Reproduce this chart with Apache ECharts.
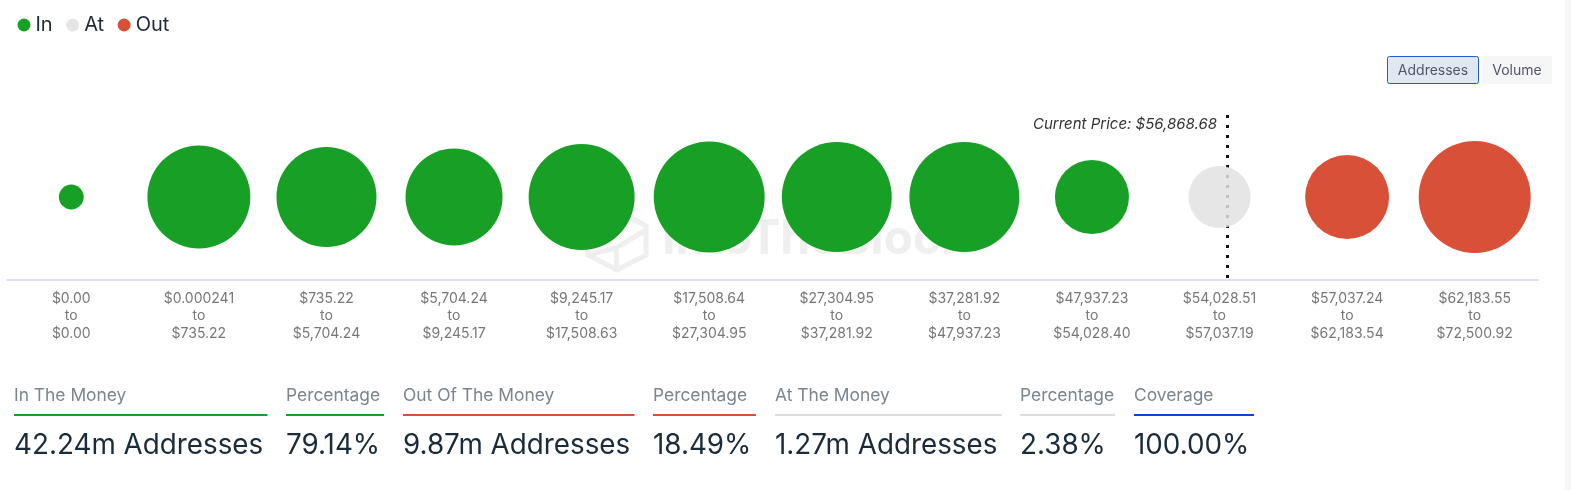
<!DOCTYPE html>
<html><head><meta charset="utf-8">
<style>html,body{margin:0;padding:0;background:#fff}#c{width:1571px;height:490px}</style>
<script src="https://cdn.jsdelivr.net/npm/echarts@6/dist/echarts.min.js"></script>
</head><body><div id="c"></div>
<script>
const priceBands = ["$0.00\nto\n$0.00","$0.000241\nto\n$735.22","$735.22\nto\n$5,704.24","$5,704.24\nto\n$9,245.17","$9,245.17\nto\n$17,508.63","$17,508.64\nto\n$27,304.95","$27,304.95\nto\n$37,281.92","$37,281.92\nto\n$47,937.23","$47,937.23\nto\n$54,028.40","$54,028.51\nto\n$57,037.19","$57,037.24\nto\n$62,183.54","$62,183.55\nto\n$72,500.92"];
// addresses per band, millions (null = band belongs to another series)
const inValues  = [0.31,5.34,5.04,4.74,5.66,6.20,6.09,6.09,2.76,null,null,null];
const atValues  = [null,null,null,null,null,null,null,null,null,1.94,null,null];
const outValues = [null,null,null,null,null,null,null,null,null,null,3.55,6.32];
const statTitles = ["In The Money","Percentage","Out Of The Money","Percentage","At The Money","Percentage","Coverage"];
const statValues = ["42.24m Addresses","79.14%","9.87m Addresses","18.49%","1.27m Addresses","2.38%","100.00%"];
const currentPriceLabel = "Current Price: $56,868.68";

const FONT = "Inter";
const statX = [14,286,403,653,775,1020,1134];
const statW = [253.5,98,231.5,103,226.5,95,120];
const statC = ["#189f26","#189f26","#d95038","#d95038","#dcdcdc","#dcdcdc","#1040e0"];
const toPts = a => a.map((v,i)=>v==null?null:[i,0,v]).filter(Boolean);
const bubble = (name,vals,color,extra) => ({
  name, type:"scatter", data:toPts(vals), z:3,
  symbolSize:d=>44.56*Math.sqrt(d[2]),
  itemStyle:Object.assign({color,opacity:1},extra||{}),
  emphasis:{disabled:true}, silent:true
});
const WM = "#efefef";
const graphics = [
  {type:"rect",shape:{x:1565,y:0,width:6,height:490},style:{fill:"#f6f6f6"}},
  {type:"text",x:662,y:240,style:{text:"IntoTheBlock",font:"700 48px Inter",fill:WM,verticalAlign:"middle"}},
  {type:"polyline",shape:{points:[[617,210],[646,226],[646,255],[617,270],[588,255],[588,226],[617,210]]},style:{stroke:WM,lineWidth:5,fill:"none"}},
  {type:"polyline",shape:{points:[[646,230],[616,248],[588,255]]},style:{stroke:WM,lineWidth:5,fill:"none"}},
  {type:"polyline",shape:{points:[[616,248],[617,270]]},style:{stroke:WM,lineWidth:5,fill:"none"}},
  {type:"line",shape:{x1:1227.5,y1:115,x2:1227.5,y2:279},style:{stroke:"#111",lineWidth:3,lineDash:[3,7]}},
  {type:"text",x:1217,y:124,style:{text:currentPriceLabel,font:"italic 15px Inter",fill:"#333",align:"right",verticalAlign:"middle"}},
  {type:"rect",shape:{x:1387.5,y:56.5,width:91,height:27,r:2},style:{fill:"#e2e8f3",stroke:"#1a5fd8",lineWidth:1}},
  {type:"text",x:1433,y:71,style:{text:"Addresses",font:"14px Inter",fill:"#4f5966",align:"center",verticalAlign:"middle"}},
  {type:"rect",shape:{x:1482,y:56,width:70,height:28,r:2},style:{fill:"#f6f6f6"}},
  {type:"text",x:1517,y:71,style:{text:"Volume",font:"14px Inter",fill:"#4f5966",align:"center",verticalAlign:"middle"}}
];
statTitles.forEach((t,i)=>{
  graphics.push({type:"text",x:statX[i],y:396,style:{text:t,font:"17.4px Inter",fill:"#7b858e",verticalAlign:"middle"}});
  graphics.push({type:"rect",shape:{x:statX[i],y:414,width:statW[i],height:2},style:{fill:statC[i]}});
  graphics.push({type:"text",x:statX[i],y:446,style:{text:statValues[i],font:"27.8px Inter",fill:"#1a2b3a",verticalAlign:"middle"}});
});
const chart = echarts.init(document.getElementById("c"),null,{renderer:"canvas"});
chart.setOption({
  animation:false,
  textStyle:{fontFamily:FONT},
  legend:{left:12.5,top:10,itemWidth:13,itemHeight:13,itemGap:13.5,icon:"circle",
    textStyle:{fontFamily:FONT,fontSize:20,color:"#1f2933"},
    data:["In","At","Out"],selectedMode:false},
  grid:{left:7.5,width:1531,top:114.5,height:165},
  xAxis:{type:"category",data:priceBands,boundaryGap:true,
    axisLine:{onZero:false,lineStyle:{color:"#dcdfef",width:2}},axisTick:{show:false},splitLine:{show:false},
    axisLabel:{interval:0,color:"#777",fontFamily:FONT,fontSize:14,lineHeight:17.5,margin:10.5,align:"center"}},
  yAxis:{type:"value",min:-1,max:1,show:false},
  tooltip:{show:false},
  graphic:{elements:graphics},
  series:[bubble("In",inValues,"#189f26"),bubble("At",atValues,"#e2e2e2",{opacity:0.85}),bubble("Out",outValues,"#d95038")]
});
</script></body></html>
